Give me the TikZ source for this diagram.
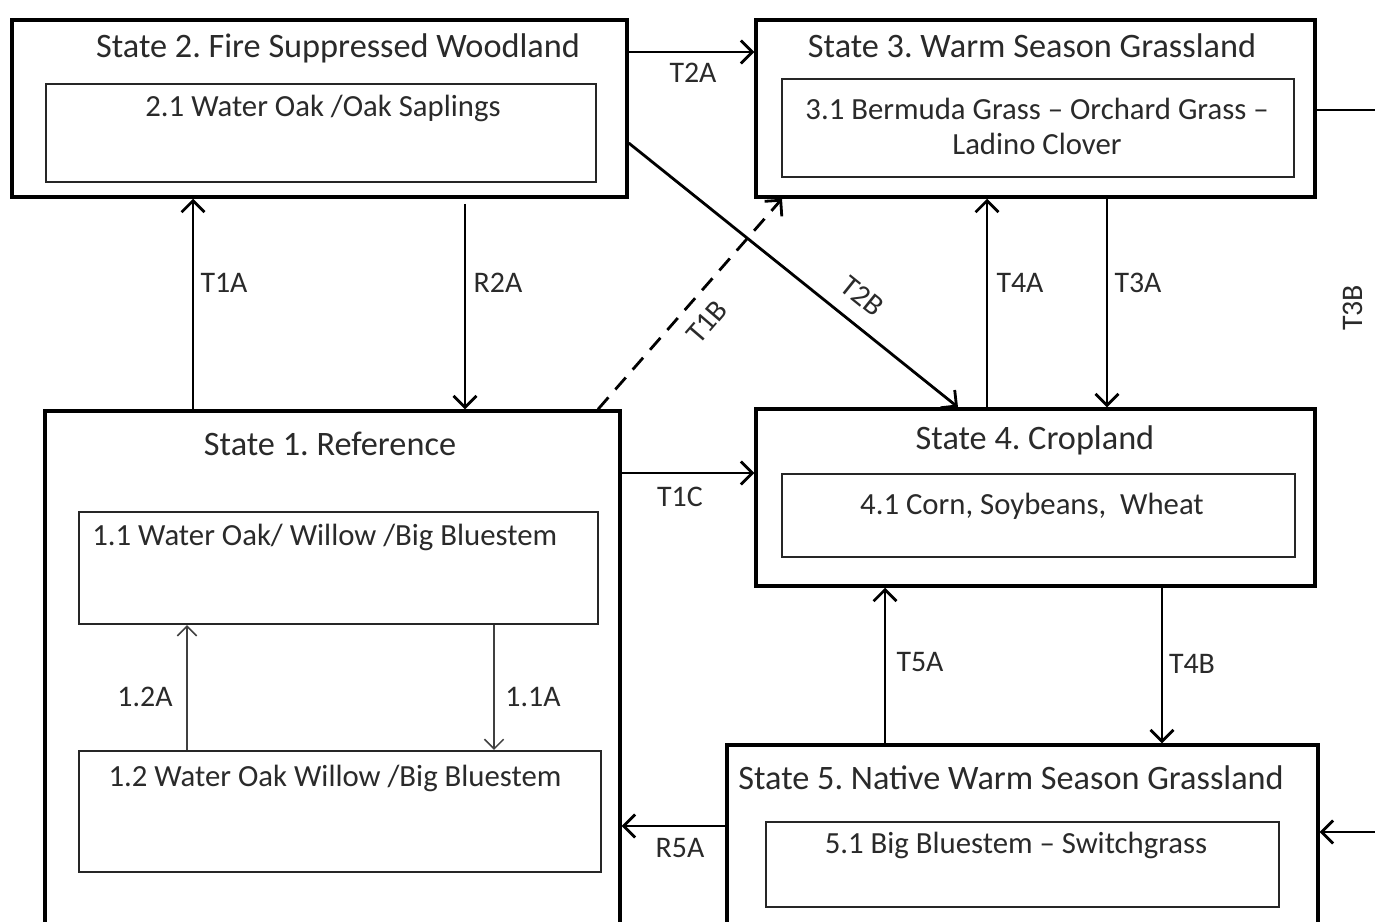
\documentclass[tikz,border=0pt]{standalone}
\usepackage{fontspec}
\setmainfont{Carlito}
\frenchspacing
\usetikzlibrary{arrows.meta}
\definecolor{txt}{HTML}{2A2A2A}
\tikzset{
  outerbox/.style={draw=black, line width=2pt, fill=white, inner sep=0pt},
  innerbox/.style={draw=black!85, line width=1.2pt, inner sep=0pt},
  ttl/.style={text=txt, font=\fontsize{19.5}{22}\selectfont, inner sep=0pt},
  itxt/.style={text=txt, font=\fontsize{17.5}{20}\selectfont, inner sep=0pt, align=center},
  lbl/.style={text=txt, font=\fontsize{17}{19}\selectfont, inner sep=0pt},
  arr/.style={line width=1.6pt, -{Straight Barb[length=6.5pt,width=13pt,line width=1.6pt]}},
  thinarr/.style={draw=black!75, line width=0.9pt, -{Straight Barb[length=5.5pt,width=11pt,line width=0.9pt]}}
}
\begin{document}
\begin{tikzpicture}[x=0.02cm, y=-0.02cm]
\useasboundingbox[fill=white] (0,0) rectangle (1375,921);

% State 2
\node[outerbox, minimum width=12.3cm, minimum height=3.54cm] (s2) at (319.5,108.5) {};
\node[innerbox, minimum width=11cm, minimum height=1.96cm] (s2i) at (321,133) {};
\node[ttl] (s2t) at (338,48) {State 2. Fire Suppressed Woodland};
\node[itxt] (s2it) at (323,108) {2.1 Water Oak /Oak Saplings};

% State 3
\node[outerbox, minimum width=11.18cm, minimum height=3.54cm] (s3) at (1035.5,108.5) {};
\node[innerbox, minimum width=10.24cm, minimum height=1.96cm] (s3i) at (1038,128) {};
\node[ttl] (s3t) at (1032,46) {State 3. Warm Season Grassland};
\node[itxt] (s3it) at (1037,126) {3.1 Bermuda Grass -- Orchard Grass --\\Ladino Clover};

% State 1
\node[outerbox, minimum width=11.5cm, minimum height=10.48cm] (s1) at (332.5,673) {};
\node[innerbox, minimum width=10.38cm, minimum height=2.24cm] (s11) at (338.5,568) {};
\node[innerbox, minimum width=10.44cm, minimum height=2.42cm] (s12) at (340,811.5) {};
\node[ttl] (s1t) at (330,444) {State 1. Reference};
\node[itxt, anchor=west] (s11t) at (92,537) {1.1 Water Oak/ Willow /Big Bluestem};
\node[itxt] (s12t) at (335,778) {1.2 Water Oak Willow /Big Bluestem};

% State 4
\node[outerbox, minimum width=11.18cm, minimum height=3.54cm] (s4) at (1035.5,497.5) {};
\node[innerbox, minimum width=10.26cm, minimum height=1.66cm] (s4i) at (1038.5,515.5) {};
\node[ttl] (s4t) at (1035,440) {State 4. Cropland};
\node[itxt] (s4it) at (1032,506) {4.1 Corn, Soybeans,\ \ Wheat};

% State 5
\node[outerbox, minimum width=11.82cm, minimum height=3.6cm] (s5) at (1022.5,835) {};
\node[innerbox, minimum width=10.26cm, minimum height=1.7cm] (s5i) at (1022.5,864.5) {};
\node[ttl] (s5t) at (1011,778) {State 5. Native Warm Season Grassland};
\node[itxt] (s5it) at (1016,845) {5.1 Big Bluestem -- Switchgrass};

% helper coordinates
\coordinate (y52) at (0,52);
\coordinate (y143) at (0,143);
\coordinate (y110) at (0,110);
\coordinate (y473) at (0,473);
\coordinate (y826) at (0,826);
\coordinate (y832) at (0,832);
\coordinate (x193) at (193,0);
\coordinate (x465) at (465,0);
\coordinate (x598) at (598,0);
\coordinate (x782) at (782,0);
\coordinate (x958) at (958,0);
\coordinate (x987) at (987,0);
\coordinate (x1107) at (1107,0);
\coordinate (x885) at (885,0);
\coordinate (x1162) at (1162,0);
\coordinate (x187) at (187,0);
\coordinate (x494) at (494,0);
\coordinate (edgeA) at (1392,110);
\coordinate (edgeB) at (1392,832);

% connectors
\draw[arr] (s2.east |- y52) -- (s3.west |- y52);
\node[lbl] (lT2A) at (693,73) {T2A};

\draw[arr] (s1.north -| x193) -- (s2.south -| x193);
\node[lbl] (lT1A) at (224,283) {T1A};

\draw[arr] ([yshift=-0.1cm]s2.south -| x465) -- (s1.north -| x465);
\node[lbl] (lR2A) at (498,283) {R2A};

\draw[arr, dashed, dash pattern=on 9pt off 6pt] (s1.north -| x598) -- (s3.south -| x782);
\node[lbl, rotate=49.3] (lT1B) at (707,322) {T1B};

\draw[arr] (s2.east |- y143) -- (s4.north -| x958);
\node[lbl, rotate=-38.8] (lT2B) at (862,296) {T2B};

\draw[arr] (s4.north -| x987) -- (s3.south -| x987);
\node[lbl] (lT4A) at (1020,283) {T4A};

\draw[arr] (s3.south -| x1107) -- (s4.north -| x1107);
\node[lbl] (lT3A) at (1138,283) {T3A};

\draw[arr] (s1.east |- y473) -- (s4.west |- y473);
\node[lbl] (lT1C) at (680,497) {T1C};

\draw[arr] (s5.north -| x885) -- (s4.south -| x885);
\node[lbl] (lT5A) at (920,662) {T5A};

\draw[arr] (s4.south -| x1162) -- (s5.north -| x1162);
\node[lbl] (lT4B) at (1192,664) {T4B};

\draw[arr] (s5.west |- y826) -- (s1.east |- y826);
\node[lbl] (lR5A) at (680,848) {R5A};

\draw[arr] (s3.east |- y110) -- (edgeA) -- (edgeB) -- (s5.east |- y832);
\node[lbl, rotate=90] (lT3B) at (1353,308) {T3B};

\draw[thinarr] (s12.north -| x187) -- (s11.south -| x187);
\node[lbl] (l12A) at (145,697) {1.2A};
\draw[thinarr] (s11.south -| x494) -- (s12.north -| x494);
\node[lbl] (l11A) at (533,697) {1.1A};
\end{tikzpicture}
\end{document}
